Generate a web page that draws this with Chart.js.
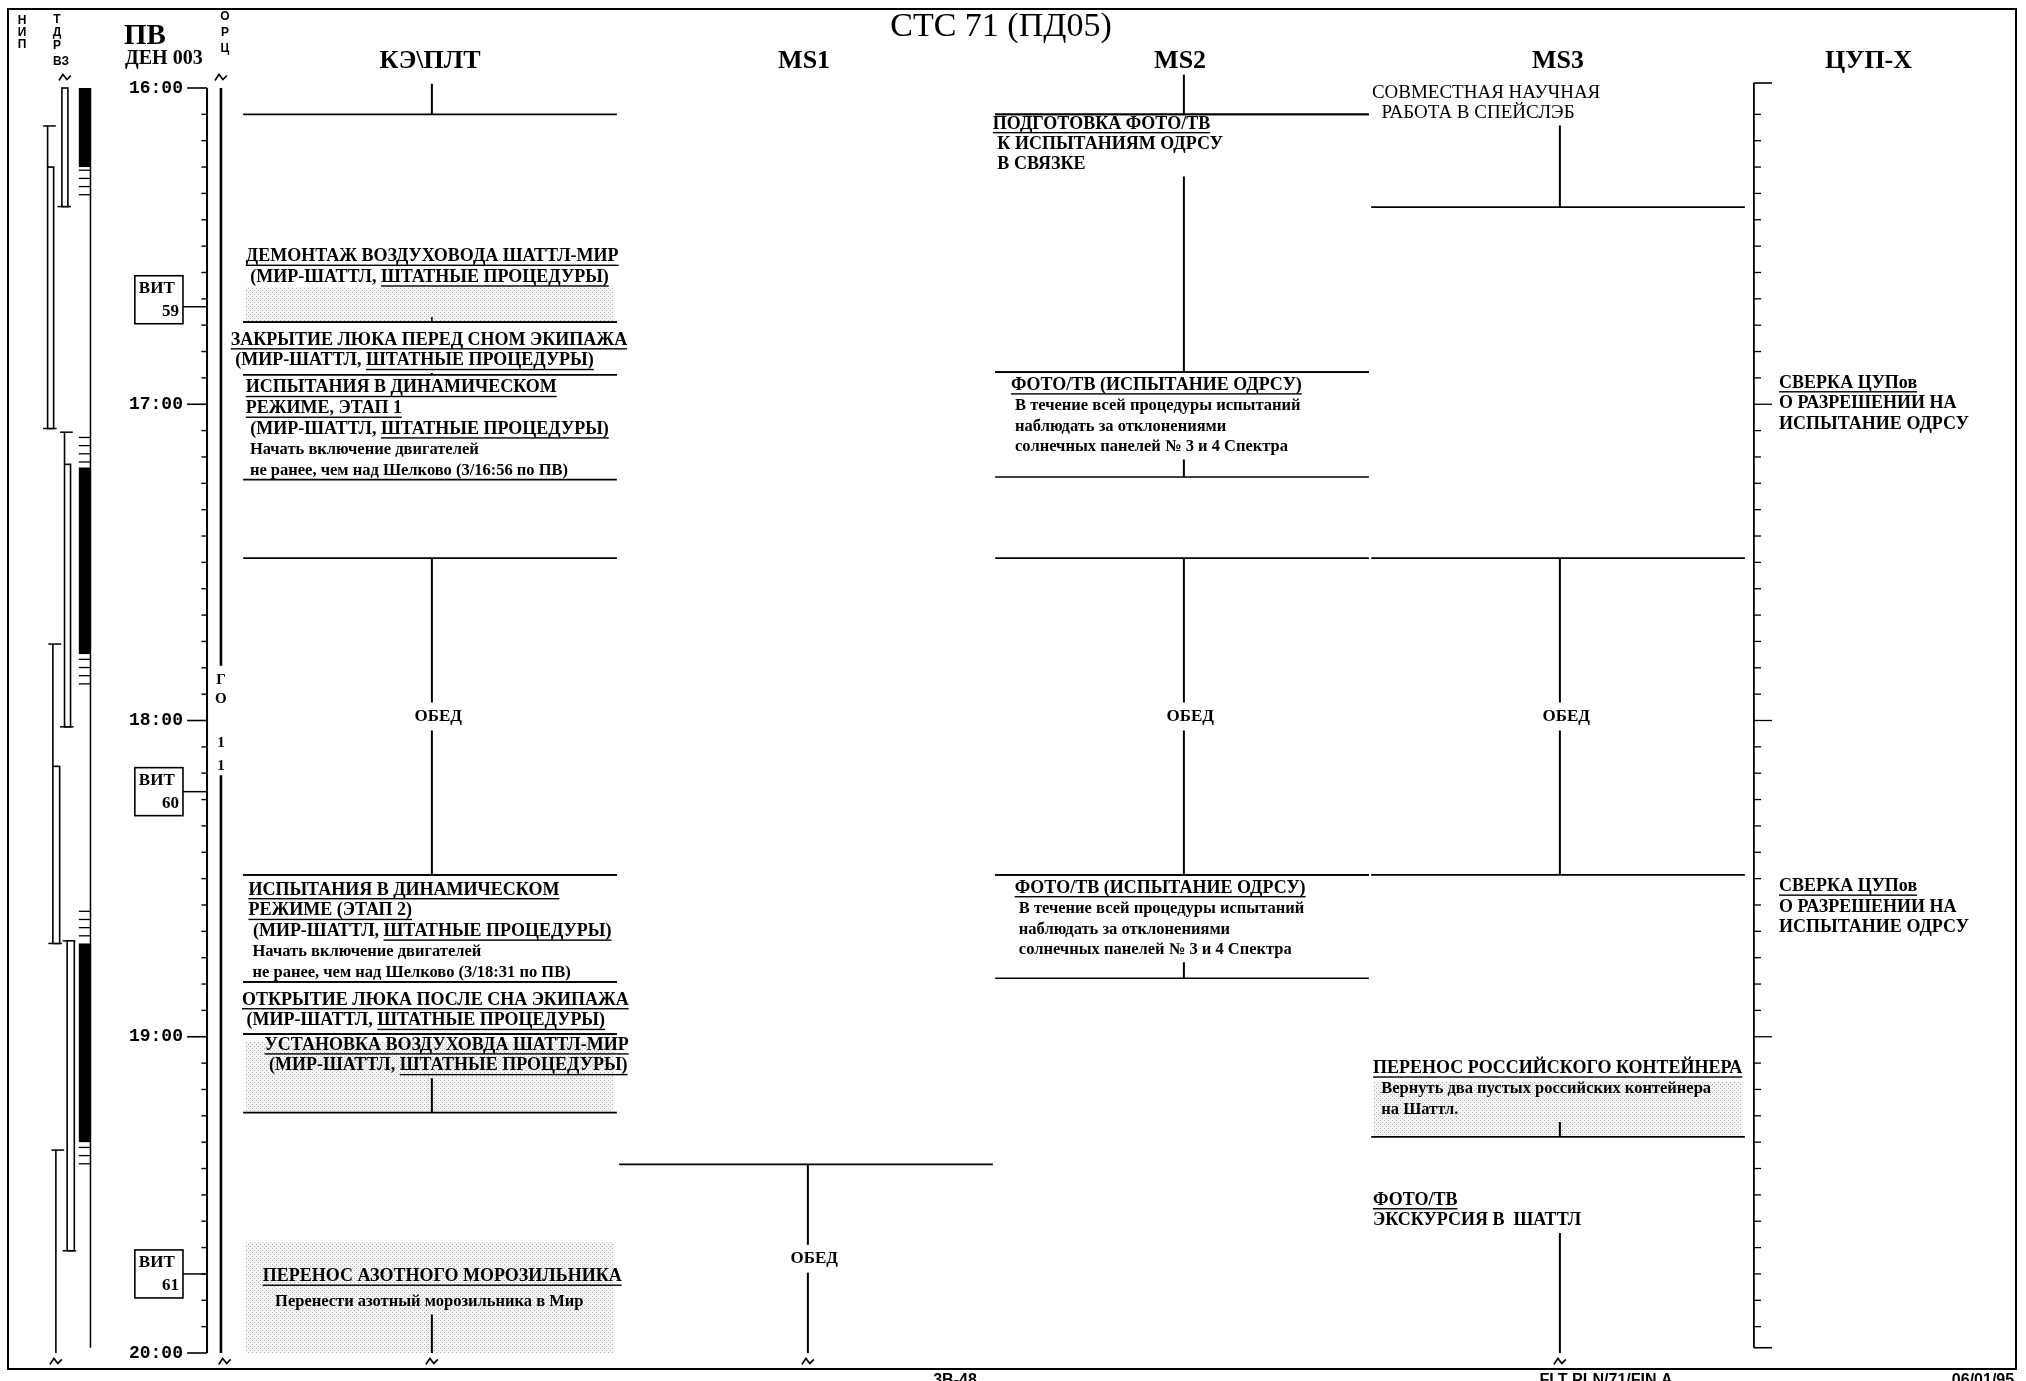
<!DOCTYPE html>
<html lang="ru">
<head>
<meta charset="utf-8">
<title>СТС 71 (ПД05)</title>
<script src="https://cdn.jsdelivr.net/npm/chart.js@4.4.1/dist/chart.umd.min.js"></script>
<style>
html,body{margin:0;padding:0;background:#fff;overflow:hidden;}
canvas{display:block;}
</style>
</head>
<body>
<canvas id="plan" width="2026" height="1381"></canvas>
<script>
// ======================= DATA =======================
const chartTitle = 'СТС 71 (ПД05)';
const crewNames  = ['КЭ\\ПЛТ', 'MS1', 'MS2', 'MS3', 'ЦУП-Х'];
const hourValues = [0, 60, 120, 180, 240];            // minutes after 16:00 (ПВ)
const hourLabels = ['16:00', '17:00', '18:00', '19:00', '20:00'];
const tickStepMin = 5;
const timeRefLabel = 'ПВ';
const dayLabel = 'ДЕН 003';
const footerLabels = ['3В-48', 'FLT PLN/71/FIN A', '06/01/95'];

// crew activities (times in minutes after 16:00)
const actCrew  = [0, 0, 0, 0, 0, 0, 0, 0, 0, 1, 2, 2, 2, 2, 2, 3, 3, 3, 3, 4, 4];
const actStart = [-0.8, 29.5, 44.4, 54.4, 89.2, 149.3, 169.6, 179.5, 223, 204.2, -2.5, 5, 53.9, 89.2, 149.3, -1.6, 89.2, 183.5, 208.5, 53.5, 149];
const actEnd   = [5, 44.4, 54.4, 74.3, 149.3, 169.6, 179.5, 194.4, 280, 264.2, 5, 53.9, 73.8, 149.3, 168.9, 22.6, 149.3, 199, 280, 53.5, 149];
const actStartLine = [false, false, true, true, true, true, true, true, false, true, false, true, true, true, true, false, true, false, false, false, false];
const actKind  = ['b','b','b','b','c','b','b','b','b','c','b','b','b','c','b','b','c','b','b','n','n'];
const actLabels = [
  [],
  ['_ДЕМОНТАЖ ВОЗДУХОВОДА ШАТТЛ-МИР_', ' (МИР-ШАТТЛ, _ШТАТНЫЕ ПРОЦЕДУРЫ)_'],
  ['_ЗАКРЫТИЕ ЛЮКА ПЕРЕД СНОМ ЭКИПАЖА_', ' (МИР-ШАТТЛ, _ШТАТНЫЕ ПРОЦЕДУРЫ)_'],
  ['_ИСПЫТАНИЯ В ДИНАМИЧЕСКОМ_', '_РЕЖИМЕ, ЭТАП 1_', ' (МИР-ШАТТЛ, _ШТАТНЫЕ ПРОЦЕДУРЫ)_', '~ Начать включение двигателей', '~ не ранее, чем над Шелково (3/16:56 по ПВ)'],
  ['ОБЕД'],
  ['_ИСПЫТАНИЯ В ДИНАМИЧЕСКОМ_', '_РЕЖИМЕ (ЭТАП 2)_', ' (МИР-ШАТТЛ, _ШТАТНЫЕ ПРОЦЕДУРЫ)_', '~ Начать включение двигателей', '~ не ранее, чем над Шелково (3/18:31 по ПВ)'],
  ['_ОТКРЫТИЕ ЛЮКА ПОСЛЕ СНА ЭКИПАЖА_', ' (МИР-ШАТТЛ, _ШТАТНЫЕ ПРОЦЕДУРЫ)_'],
  ['_УСТАНОВКА ВОЗДУХОВДА ШАТТЛ-МИР_', ' (МИР-ШАТТЛ, _ШТАТНЫЕ ПРОЦЕДУРЫ)_'],
  ['_ПЕРЕНОС АЗОТНОГО МОРОЗИЛЬНИКА_', '~   Перенести азотный морозильника в Мир'],
  ['ОБЕД'],
  [],
  ['_ПОДГОТОВКА ФОТО/ТВ_', ' К ИСПЫТАНИЯМ ОДРСУ', ' В СВЯЗКЕ'],
  ['_ФОТО/ТВ (ИСПЫТАНИЕ ОДРСУ)_', '~ В течение всей процедуры испытаний', '~ наблюдать за отклонениями', '~ солнечных панелей № 3 и 4 Спектра'],
  ['ОБЕД'],
  ['_ФОТО/ТВ (ИСПЫТАНИЕ ОДРСУ)_', '~ В течение всей процедуры испытаний', '~ наблюдать за отклонениями', '~ солнечных панелей № 3 и 4 Спектра'],
  ['^СОВМЕСТНАЯ НАУЧНАЯ', '^  РАБОТА В СПЕЙСЛЭБ'],
  ['ОБЕД'],
  ['_ПЕРЕНОС РОССИЙСКОГО КОНТЕЙНЕРА_', '~  Вернуть два пустых российских контейнера', '~  на Шаттл.'],
  ['_ФОТО/ТВ_', 'ЭКСКУРСИЯ В  ШАТТЛ'],
  ['_СВЕРКА ЦУПов_', 'О РАЗРЕШЕНИИ НА', 'ИСПЫТАНИЕ ОДРСУ'],
  ['_СВЕРКА ЦУПов_', 'О РАЗРЕШЕНИИ НА', 'ИСПЫТАНИЕ ОДРСУ']
];

// shaded (stippled) periods
const shadeCrew  = [0, 0, 0, 3];
const shadeStart = [37.8, 181, 219, 188.5];
const shadeEnd   = [44.4, 194.4, 240, 199];

// orbits (ВИТ)
const orbitNums  = ['59', '60', '61'];
const orbitTimes = [41.5, 133.5, 225];

// ОРЦ line and its interruption text
const orcOn        = [[0, 109.6], [130.4, 240]];
const orcGapText   = ['Г', 'О', '1', '1'];
const orcGapTimes  = [112.3, 116, 124.3, 128.6];

// ТДРВЗ coverage: solid periods and hatched edges
const tdrsSolid = [[0, 15], [72, 107.4], [162.3, 200]];
const tdrsEdge  = [[15.6, 21.6], [66.3, 71], [108.4, 113.4], [156.2, 161.2], [201, 205.6]];

// НИП passes: cap (line start), bar start, end  (null = none)
const passCap = [null, 7.2, 65.3, 105.5, 161.8, 201.5];
const passBar = [0, 15, 71.4, 128.7, 161.8, null];
const passEnd = [22.5, 64.6, 121.2, 162.3, 220.6, 250];

// ======================= LAYOUT / STYLE =======================
const SERIF = '"Liberation Serif","Times New Roman",serif';
const MONO  = '"Liberation Mono","DejaVu Sans Mono",monospace';
const SANS  = '"Liberation Sans","DejaVu Sans",sans-serif';
// x scale unit = one crew column; 0 = left edge of КЭ\ПЛТ column
const X_MIN = -242 / 376, X_MAX = (2026 - 242) / 376;
const LAY = {
  axisX: -0.093, minorTickX: -0.108, hourTickX: -0.146, hourLabelX: -0.157,
  orcX: -0.056,
  vitL: -0.285, vitR: -0.157, vitShift: [-7, 0, 0],
  blackL: -0.434, blackR: -0.403,
  passX:  [-0.479, -0.517, -0.472, -0.503, -0.465, -0.495],
  passW:  [0.016, 0.016, 0.016, 0.018, 0.019, 0],
  cupX: 4.021, cupMinor: 4.040, cupHour: 4.069,
  crewHeadX: [0.5, 1.495, 2.495, 3.5, 4.326],
  actIndent: [0, 0.01, -0.03, 0.01, 0, 0.017, 0.0, 0.06, 0.055, 0, 0, -0.003, 0.045, 0, 0.055, 0.005, 0, 0.008, 0.008, 0.088, 0.088],
  labelDy:   [0, 0, 5, 0, 0, 2, 5, -2, 0, 0, 0, -3.5, 0, 0, 0, 0, 0, 0, 0, 0, 0],
  lineGapExtra: [0, 0, 0, 0, 0, 0, 0, 0, 5, 0, 0, -0.5, 0, 0, 0, 0, 0, 0, 0, 0, 0],
  shortStem: [1],
  firstLinePx: 13, lineHPx: 20.7,
  titleFont: 18, smallFont: 16.5
};

// ======================= CHART =======================
const canvas = document.getElementById('plan');

function drawRich(ctx, str, x, y, size, weight, align) {
  const parts = []; let ul = false, buf = '';
  for (const ch of str) {
    if (ch === '_') { if (buf) parts.push([buf, ul]); buf = ''; ul = !ul; }
    else buf += ch;
  }
  if (buf) parts.push([buf, ul]);
  ctx.font = `${weight} ${size}px ${SERIF}`;
  const ws = parts.map(p => ctx.measureText(p[0]).width);
  const total = ws.reduce((a, b) => a + b, 0);
  let cx = align === 'center' ? x - total / 2 : (align === 'right' ? x - total : x);
  ctx.textAlign = 'left'; ctx.textBaseline = 'middle';
  parts.forEach((p, i) => {
    ctx.fillText(p[0], cx, y);
    if (p[1]) {
      const lead = p[0].length - p[0].trimStart().length;
      const leadW = lead ? ctx.measureText(p[0].slice(0, lead)).width : 0;
      ctx.fillRect(cx + leadW, y + size * 0.45, ws[i] - leadW, 1.4);
    }
    cx += ws[i];
  });
}

function breakMark(ctx, x, y) {
  ctx.beginPath();
  ctx.moveTo(x - 6, y + 3); ctx.lineTo(x - 2, y - 3); ctx.lineTo(x + 2, y + 2); ctx.lineTo(x + 6, y - 2);
  ctx.lineWidth = 1.6; ctx.strokeStyle = '#000'; ctx.stroke();
}

function labelY(k, j, Y) {
  return Y(actStart[k]) + LAY.firstLinePx + LAY.labelDy[k] + j * (LAY.lineHPx + LAY.lineGapExtra[k]);
}

// stipple pattern for shaded periods
const pc = document.createElement('canvas'); pc.width = 4; pc.height = 4;
const pctx = pc.getContext('2d');
pctx.fillStyle = '#f4f4f4'; pctx.fillRect(0, 0, 4, 4);
pctx.fillStyle = '#b4b4b4'; pctx.fillRect(0, 0, 1, 1); pctx.fillRect(2, 2, 1, 1);

const planPlugin = {
  id: 'planPlugin',
  beforeDatasetsDraw(c) {
    const ctx = c.ctx, xs = c.scales.x, ys = c.scales.y;
    const X = v => xs.getPixelForValue(v), Y = v => ys.getPixelForValue(v);
    ctx.save();
    // frame
    ctx.strokeStyle = '#000'; ctx.lineWidth = 2;
    ctx.strokeRect(8, 9, 2008, 1360);
    // stippled shading
    ctx.fillStyle = ctx.createPattern(pc, 'repeat');
    for (let k = 0; k < shadeCrew.length; k++) {
      const i = shadeCrew[k];
      ctx.fillRect(X(i + 0.01), Y(shadeStart[k]), X(i + 0.99) - X(i + 0.01), Y(shadeEnd[k]) - Y(shadeStart[k]));
    }
    // ТДРВЗ solid coverage
    ctx.fillStyle = '#000';
    tdrsSolid.forEach(([a, b]) => ctx.fillRect(X(LAY.blackL), Y(a), X(LAY.blackR) - X(LAY.blackL), Y(b) - Y(a)));
    ctx.restore();
  },
  afterDatasetsDraw(c) {
    const ctx = c.ctx, xs = c.scales.x, ys = c.scales.y;
    const X = v => xs.getPixelForValue(v), Y = v => ys.getPixelForValue(v);
    ctx.save();
    ctx.fillStyle = '#000'; ctx.strokeStyle = '#000';
    // НИП hollow bars
    for (let k = 0; k < passBar.length; k++) {
      if (passBar[k] === null || !LAY.passW[k]) continue;
      const x0 = X(LAY.passX[k]), x1 = X(LAY.passX[k] + LAY.passW[k]);
      const y0 = Y(passBar[k]), y1 = Y(Math.min(passEnd[k], 240));
      ctx.fillStyle = '#fff'; ctx.fillRect(x0, y0, x1 - x0, y1 - y0);
      ctx.lineWidth = 1.6; ctx.strokeRect(x0, y0, x1 - x0, y1 - y0);
    }
    ctx.fillStyle = '#000';
    // break marks
    breakMark(ctx, X(LAY.passX[0] + 0.008), Y(-2));
    breakMark(ctx, X(LAY.orcX), Y(-2));
    breakMark(ctx, X(LAY.passX[5]), Y(241.6));
    breakMark(ctx, X(LAY.orcX + 0.01), Y(241.6));
    for (let k = 0; k < actCrew.length; k++) {
      if (actEnd[k] > 240 && actKind[k] !== 'n') breakMark(ctx, X(actCrew[k] + 0.505), Y(241.6));
    }
    // ВИТ boxes
    orbitTimes.forEach((t, k) => {
      const x0 = X(LAY.vitL), x1 = X(LAY.vitR), yc = Y(t) + LAY.vitShift[k];
      ctx.fillStyle = '#fff'; ctx.fillRect(x0, yc - 24, x1 - x0, 48);
      ctx.lineWidth = 1.6; ctx.strokeRect(x0, yc - 24, x1 - x0, 48);
      ctx.fillStyle = '#000';
      ctx.font = `bold 17px ${SERIF}`; ctx.textBaseline = 'middle';
      ctx.textAlign = 'left'; ctx.fillText('ВИТ', x0 + 4, yc - 11);
      ctx.textAlign = 'right'; ctx.fillText(orbitNums[k], x1 - 4, yc + 12);
    });
    // hour labels
    ctx.font = `bold 18px ${MONO}`; ctx.textAlign = 'right'; ctx.textBaseline = 'middle';
    hourValues.forEach((v, k) => ctx.fillText(hourLabels[k], X(LAY.hourLabelX), Y(v)));
    // ОРЦ gap text
    ctx.font = `bold 15px ${SERIF}`; ctx.textAlign = 'center';
    orcGapText.forEach((s, k) => ctx.fillText(s, X(LAY.orcX), Y(orcGapTimes[k])));
    // activity labels
    for (let k = 0; k < actCrew.length; k++) {
      const i = actCrew[k], labels = actLabels[k];
      if (!labels.length) continue;
      if (actKind[k] === 'c') {
        const mid = (Math.max(actStart[k], 0) + Math.min(actEnd[k], 240)) / 2;
        drawRich(ctx, labels[0], X(i + 0.522), Y(mid), 17, 'bold', 'center');
        continue;
      }
      const x = X(i + LAY.actIndent[k]);
      labels.forEach((raw, j) => {
        let s = raw, size = LAY.titleFont, weight = 'bold';
        if (s[0] === '~') { s = s.slice(1); size = LAY.smallFont; }
        else if (s[0] === '^') { s = s.slice(1); size = 19; weight = 'normal'; }
        drawRich(ctx, s, x, labelY(k, j, Y), size, weight, 'left');
      });
    }
    // header
    ctx.textBaseline = 'middle';
    ctx.font = `34px ${SERIF}`; ctx.textAlign = 'center';
    ctx.fillText(chartTitle, 1001, 27);
    ctx.font = `bold 26px ${SERIF}`;
    crewNames.forEach((n, i) => ctx.fillText(n, X(LAY.crewHeadX[i]), 61));
    ctx.textAlign = 'left';
    ctx.font = `bold 29px ${SERIF}`; ctx.fillText(timeRefLabel, 124, 37);
    ctx.font = `bold 20px ${SERIF}`; ctx.fillText(dayLabel, 125, 59);
    ctx.font = `bold 12px ${SANS}`; ctx.textAlign = 'center';
    ['Н', 'И', 'П'].forEach((s, k) => ctx.fillText(s, 22, 21 + k * 12));
    ['Т', 'Д', 'Р'].forEach((s, k) => ctx.fillText(s, 57, 20 + k * 13));
    ctx.fillText('ВЗ', 61, 62);
    ['О', 'Р', 'Ц'].forEach((s, k) => ctx.fillText(s, 225, 17 + k * 16));
    // footer (cut at page edge)
    ctx.font = `bold 16px ${SANS}`; ctx.textBaseline = 'top';
    ctx.fillText(footerLabels[0], 955, 1373);
    ctx.fillText(footerLabels[1], 1606, 1373);
    ctx.fillText(footerLabels[2], 1983, 1373);
    ctx.restore();
  }
};

const chart = new Chart(canvas, {
  type: 'scatter',
  data: { datasets: [] },
  options: {
    responsive: false, animation: false, devicePixelRatio: 1, events: [],
    layout: { padding: { top: 88, bottom: 28, left: 0, right: 0 } },
    plugins: { legend: { display: false }, tooltip: { enabled: false }, title: { display: false } },
    scales: {
      x: { type: 'linear', min: X_MIN, max: X_MAX, display: false },
      y: { type: 'linear', min: 0, max: 240, reverse: true, display: false }
    }
  },
  plugins: [planPlugin]
});

// build line segments through the scales
const ys = chart.scales.y;
const P = v => ys.getPixelForValue(v), V = p => ys.getValueForPixel(p);
const segs = [];
function seg(x1, t1, x2, t2, w) { segs.push({ d: [{ x: x1, y: t1 }, { x: x2, y: t2 }], w: w }); }

// left time axis
seg(LAY.axisX, 0, LAY.axisX, 240, 2);
for (let t = 0; t <= 240; t += tickStepMin) {
  const isHour = hourValues.includes(t);
  seg(isHour ? LAY.hourTickX : LAY.minorTickX, t, LAY.axisX, t, isHour ? 1.6 : 1.4);
}
// ВИТ connectors
orbitTimes.forEach(t => seg(LAY.vitR, t, LAY.axisX, t, 1.5));
// ОРЦ
orcOn.forEach(([a, b]) => seg(LAY.orcX, a, LAY.orcX, b, 2.6));
// ТДРВЗ lane border and hatched edges
seg(LAY.blackR, 0, LAY.blackR, 239, 1.5);
tdrsEdge.forEach(([a, b]) => { for (let t = a; t <= b + 0.01; t += 1.55) seg(LAY.blackL, t, LAY.blackR, t, 1.3); });
// НИП passes
for (let k = 0; k < passCap.length; k++) {
  const x = LAY.passX[k];
  const endT = Math.min(passEnd[k], 240);
  if (passCap[k] !== null) {
    seg(x - 0.012, passCap[k], x + 0.022, passCap[k], 1.5);
    seg(x, passCap[k], x, passBar[k] === null ? endT : passBar[k], 1.6);
  }
  if (passEnd[k] <= 240) seg(x - 0.012, passEnd[k], x + 0.024, passEnd[k], 1.5);
}
// ЦУП-Х timeline
seg(LAY.cupX, -0.95, LAY.cupX, 239, 1.8);
seg(LAY.cupX, -0.95, LAY.cupHour, -0.95, 1.6);
seg(LAY.cupX, 239, LAY.cupHour, 239, 1.6);
for (let t = tickStepMin; t < 240; t += tickStepMin) {
  seg(LAY.cupX, t, hourValues.includes(t) ? LAY.cupHour : LAY.cupMinor, t, 1.3);
}
// crew activities
for (let k = 0; k < actCrew.length; k++) {
  const i = actCrew[k], kind = actKind[k];
  if (kind === 'n') continue;
  const s = actStart[k], e = Math.min(actEnd[k], 240);
  const L0 = i + 0.003, R0 = i + 0.997, cx = i + 0.505;
  if (actStartLine[k] && s >= 0) seg(L0, s, R0, s, 1.7);
  if (actEnd[k] <= 240) seg(L0, e, R0, e, 1.7);
  if (kind === 'c') {
    const mid = (Math.max(s, 0) + e) / 2;
    seg(cx, Math.max(s, 0), cx, V(P(mid) - 14), 2);
    seg(cx, V(P(mid) + 14), cx, e, 2);
  } else if (LAY.shortStem.includes(k)) {
    seg(cx, V(P(e) - 5), cx, e, 1.5);
  } else {
    const n = actLabels[k].length;
    let top = P(s);
    if (n) top = labelY(k, n - 1, P) + LAY.lineHPx * 0.45 + 3;
    if (P(e) - top > 1) seg(cx, V(top), cx, e, 2);
  }
}

chart.data.datasets = segs.map(sg => ({
  data: sg.d, showLine: true, borderColor: '#000', backgroundColor: '#000',
  borderWidth: sg.w, pointRadius: 0, pointHoverRadius: 0, clip: false, tension: 0, fill: false
}));
chart.update();
</script>
</body>
</html>
